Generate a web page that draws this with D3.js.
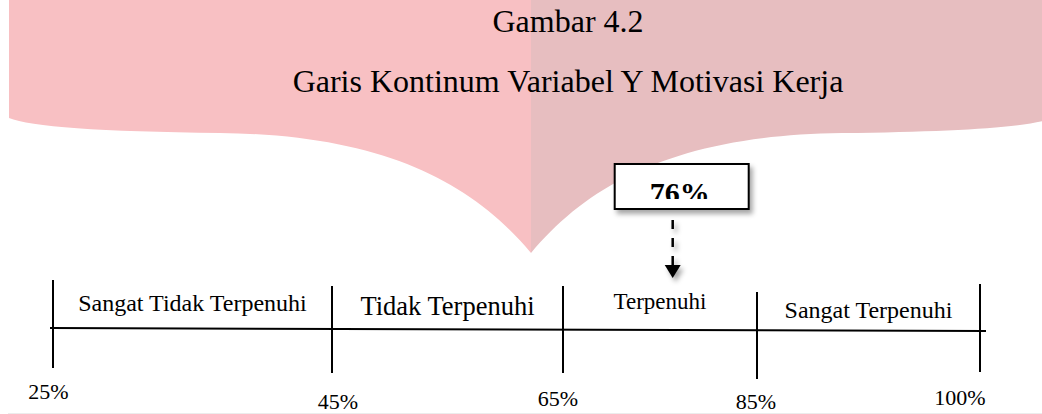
<!DOCTYPE html>
<html><head><meta charset="utf-8">
<script src="https://cdn.jsdelivr.net/npm/d3@7"></script>
<style>html,body{margin:0;padding:0;background:#fff;} svg{display:block;}</style>
</head><body><svg id="c" width="1042" height="414"></svg>
<script>
// ---- data ----
const titleLines = ["Gambar 4.2", "Garis Kontinum Variabel Y Motivasi Kerja"];
const tickValues = [25, 45, 65, 85, 100];
const tickLabels = ["25%", "45%", "65%", "85%", "100%"];
const categories = ["Sangat Tidak Terpenuhi", "Tidak Terpenuhi", "Terpenuhi", "Sangat Terpenuhi"];
const resultValue = 76;
const resultLabel = "76%";

// ---- layout ----
const W = 1042, H = 414;
const FONT = "'Liberation Serif','Times New Roman',serif";
const breakpoints = [53, 332, 563, 757, 980];
const x = d3.scaleLinear().domain(tickValues).range(breakpoints);
const lineY = d3.scaleLinear().domain([tickValues[0], tickValues[tickValues.length-1]]).range([328, 331]);
const tickTop = [280, 286, 286, 292, 284], tickBot = [368, 373, 373, 379, 372];
const labelDx = [-4.5, 6, -5, -1, -20], labelY = [399, 409, 406, 409, 405];
const catFont = [24, 26.5, 23, 24], catY = [311, 315, 309, 318];

const svg = d3.select("#c");
const defs = svg.append("defs");
const f = defs.append("filter").attr("id", "sh").attr("x", "-30%").attr("y", "-30%").attr("width", "170%").attr("height", "170%");
f.append("feDropShadow").attr("dx", 3).attr("dy", 4).attr("stdDeviation", 2.5)
  .attr("flood-color", "#000").attr("flood-opacity", 0.35);

// ---- decorative banner ----
const cx = 531, tipY = 253;
const p = d3.path();
p.moveTo(9, 0); p.lineTo(9, 118);
p.quadraticCurveTo(40, 131, 220, 133);
p.bezierCurveTo(380, 135, 470, 180, cx, tipY);
p.bezierCurveTo(2*cx-470, 180, 2*cx-380, 135, 2*cx-220, 133);
p.quadraticCurveTo(2*cx-40, 131, 2*cx-9, 118);
p.lineTo(2*cx-9, 0); p.closePath();
defs.append("clipPath").attr("id", "cl").append("rect").attr("x", 0).attr("y", 0).attr("width", cx).attr("height", H);
defs.append("clipPath").attr("id", "cr").append("rect").attr("x", cx).attr("y", 0).attr("width", W - cx).attr("height", H);
svg.append("path").attr("d", p.toString()).attr("fill", "#f8c0c3").attr("clip-path", "url(#cl)");
svg.append("path").attr("d", p.toString()).attr("fill", "#e7bec0").attr("clip-path", "url(#cr)");

// ---- titles ----
svg.selectAll("text.title").data(titleLines).join("text")
  .attr("class", "title")
  .attr("x", 568).attr("y", (d, i) => i === 0 ? 32 : 92)
  .attr("text-anchor", "middle")
  .attr("font-family", FONT).attr("font-size", 32).attr("fill", "#000")
  .text(d => d);

// ---- continuum line ----
svg.append("line")
  .attr("x1", x(tickValues[0]) - 3).attr("x2", x(tickValues[4]) + 6)
  .attr("y1", lineY(tickValues[0])).attr("y2", lineY(tickValues[4]))
  .attr("stroke", "#000").attr("stroke-width", 2);

svg.selectAll("line.tick").data(tickValues).join("line")
  .attr("class", "tick")
  .attr("x1", d => x(d)).attr("x2", d => x(d))
  .attr("y1", (d, i) => tickTop[i]).attr("y2", (d, i) => tickBot[i])
  .attr("stroke", "#000").attr("stroke-width", 2);

svg.selectAll("text.tl").data(tickLabels).join("text")
  .attr("class", "tl")
  .attr("x", (d, i) => x(tickValues[i]) + labelDx[i])
  .attr("y", (d, i) => labelY[i])
  .attr("text-anchor", "middle")
  .attr("font-family", FONT).attr("font-size", 22).attr("fill", "#000")
  .text(d => d);

svg.selectAll("text.cat").data(categories).join("text")
  .attr("class", "cat")
  .attr("x", (d, i) => (x(tickValues[i]) + x(tickValues[i+1])) / 2)
  .attr("y", (d, i) => catY[i])
  .attr("text-anchor", "middle")
  .attr("font-family", FONT).attr("font-size", (d, i) => catFont[i]).attr("fill", "#000")
  .text(d => d);

// ---- result marker ----
const mx = x(resultValue);
const bx = mx - 55, by = 164, bw = 134, bh = 45;
const g = svg.append("g").attr("filter", "url(#sh)");
g.append("rect").attr("x", bx).attr("y", by).attr("width", bw).attr("height", bh)
  .attr("fill", "#fff").attr("stroke", "#000").attr("stroke-width", 2);
defs.append("clipPath").attr("id", "ct").append("rect")
  .attr("x", bx).attr("y", by).attr("width", bw).attr("height", 35);
svg.append("text").attr("x", bx + bw / 2 - 2).attr("y", 203)
  .attr("text-anchor", "middle").attr("clip-path", "url(#ct)")
  .attr("font-family", FONT).attr("font-size", 30).attr("font-weight", "bold").attr("fill", "#000")
  .text(resultLabel);

const a = svg.append("g").attr("filter", "url(#sh)");
a.append("line").attr("x1", mx + 3).attr("x2", mx + 3).attr("y1", 220).attr("y2", 266)
  .attr("stroke", "#000").attr("stroke-width", 2.5).attr("stroke-dasharray", "9,9");
a.append("path")
  .attr("d", d3.line()([[mx + 3 - 8, 265], [mx + 3 + 8, 265], [mx + 3, 278]]) + "Z")
  .attr("fill", "#000");

// faint bottom rule
svg.append("line").attr("x1", 8).attr("x2", W).attr("y1", H - 0.5).attr("y2", H - 0.5)
  .attr("stroke", "#ececec").attr("stroke-width", 1);
</script></body></html>
